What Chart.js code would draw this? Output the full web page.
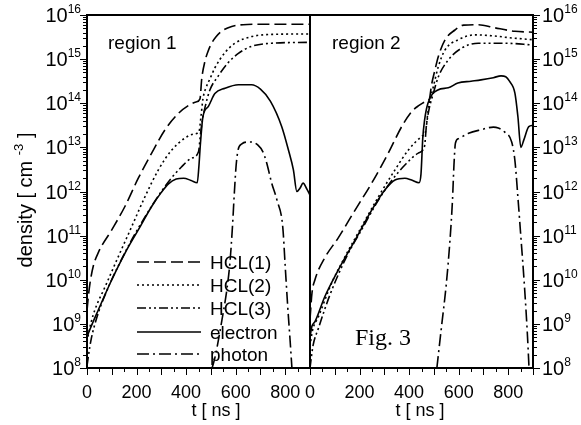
<!DOCTYPE html>
<html><head><meta charset="utf-8">
<script src="https://cdn.jsdelivr.net/npm/chart.js@4/dist/chart.umd.min.js"></script>
<style>
html,body{margin:0;padding:0;background:#fff;}
#wrap{position:relative;width:581px;height:425px;overflow:hidden;background:#fff;}
canvas{position:absolute;top:0;}
#cL{left:0;width:311px;height:425px;}
#cR{left:290px;width:291px;height:425px;}
</style></head>
<body><div id="wrap"><canvas id="cL" width="311" height="425"></canvas><canvas id="cR" width="291" height="425"></canvas></div>
<script>
// ---------- data (densities in cm^-3, time in ns) ----------
const SERIES_NAMES = ['HCL(1)', 'HCL(2)', 'HCL(3)', 'electron', 'photon'];
const X_TICK_LABELS = [0, 200, 400, 600, 800];
const Y_DECADES = [8, 9, 10, 11, 12, 13, 14, 15, 16];
const PANEL_TITLES = ['region 1', 'region 2'];

// region 1
const R1_HCL1_T = [0, 5, 12, 25, 46, 100, 153, 207, 261, 315, 369, 410, 440, 456, 463, 476, 490, 503, 520, 543, 584, 630, 700, 800, 900];
const R1_HCL1_N = [2.0e9, 3.98e9, 8.32e9, 2.0e10, 4.17e10, 1.35e11, 4.57e11, 2.0e12, 7.41e12, 2.51e13, 5.89e13, 8.91e13, 1.07e14, 1.26e14, 3.55e14, 8.91e14, 1.58e15, 2.29e15, 3.16e15, 4.27e15, 5.5e15, 6.03e15, 6.17e15, 6.17e15, 6.17e15];
const R1_HCL2_T = [0, 15, 32, 73, 126, 180, 234, 288, 342, 395, 430, 452, 460, 468, 480, 496, 516, 557, 597, 664, 745, 900];
const R1_HCL2_N = [3.98e8, 1.0e9, 2.09e9, 6.92e9, 3.31e10, 1.58e11, 7.59e11, 3.09e12, 8.71e12, 1.62e13, 2.0e13, 2.29e13, 5.01e13, 1.26e14, 2.24e14, 3.55e14, 6.31e14, 1.41e15, 2.29e15, 3.24e15, 3.63e15, 3.72e15];
const R1_HCL3_T = [0, 15, 40, 80, 150, 200, 260, 300, 340, 380, 420, 450, 458, 465, 476, 496, 530, 570, 611, 664, 745, 900];
const R1_HCL3_N = [1.12e8, 3.98e8, 1.41e9, 5.62e9, 3.8e10, 1.26e11, 4.57e11, 1.0e12, 2.0e12, 3.55e12, 5.62e12, 7.94e12, 2.0e13, 3.98e13, 7.94e13, 2.0e14, 4.17e14, 8.32e14, 1.35e15, 1.95e15, 2.29e15, 2.4e15];
const R1_ELEC_T = [0, 10, 46, 100, 153, 207, 261, 300, 330, 360, 390, 420, 445, 452, 458, 468, 490, 516, 557, 611, 664, 700, 740, 786, 813, 833, 847, 860, 872, 888, 900];
const R1_ELEC_N = [5.01e8, 7.08e8, 2.09e9, 1.0e10, 3.98e10, 1.35e11, 4.57e11, 9.55e11, 1.51e12, 1.91e12, 2.0e12, 1.78e12, 1.58e12, 3.98e12, 1.26e13, 5.01e13, 8.51e13, 1.66e14, 2.19e14, 2.63e14, 2.63e14, 2.09e14, 1.12e14, 2.95e13, 8.71e12, 3.09e12, 1.0e12, 1.2e12, 1.55e12, 1.12e12, 8.32e11];
const R1_PHOT_T = [505, 517, 545, 565, 577, 587, 595, 602, 610, 625, 645, 665, 690, 710, 725, 745, 767, 790, 800, 810, 820, 827];
const R1_PHOT_N = [1.0e8, 1.78e8, 1.26e9, 6.31e9, 2.51e10, 1.58e11, 1.0e12, 3.98e12, 8.91e12, 1.2e13, 1.32e13, 1.32e13, 1.12e13, 7.94e12, 4.47e12, 1.58e12, 6.31e11, 1.58e11, 2.0e10, 2.51e9, 3.98e8, 1.0e8];

// region 2
const R2_HCL1_T = [0, 8, 20, 60, 114, 182, 249, 316, 370, 410, 440, 470, 482, 490, 504, 518, 545, 585, 620, 680, 745, 827, 900];
const R2_HCL1_N = [1.26e9, 5.01e9, 1.0e10, 3.16e10, 8.91e10, 3.8e11, 1.55e12, 7.41e12, 2.95e13, 6.46e13, 8.91e13, 1.12e14, 1.26e14, 2.51e14, 5.62e14, 1.15e15, 2.75e15, 4.57e15, 5.89e15, 6.03e15, 5.13e15, 4.27e15, 4.07e15];
const R2_HCL2_T = [0, 10, 34, 87, 141, 208, 276, 343, 397, 451, 466, 476, 486, 498, 518, 545, 598, 666, 733, 814, 900];
const R2_HCL2_N = [3.16e8, 7.08e8, 1.45e9, 8.32e9, 3.31e10, 1.58e11, 7.59e11, 3.09e12, 8.71e12, 1.78e13, 2.24e13, 6.31e13, 1.26e14, 2.4e14, 6.76e14, 1.62e15, 2.75e15, 3.55e15, 3.39e15, 3.02e15, 2.75e15];
const R2_HCL3_T = [0, 12, 34, 80, 150, 210, 270, 330, 383, 437, 462, 470, 480, 498, 518, 558, 612, 679, 787, 900];
const R2_HCL3_N = [1.0e8, 3.16e8, 7.94e8, 4.47e9, 3.55e10, 1.41e11, 5.62e11, 1.78e12, 3.98e12, 7.41e12, 1.05e13, 3.16e13, 7.08e13, 1.7e14, 3.98e14, 9.55e14, 1.78e15, 2.29e15, 2.29e15, 2.09e15];
const R2_ELEC_T = [0, 8, 20, 60, 114, 182, 249, 303, 343, 383, 410, 440, 448, 455, 462, 476, 516, 558, 597, 650, 690, 740, 771, 790, 805, 827, 839, 851, 863, 883, 900];
const R2_ELEC_N = [5.01e8, 8.91e8, 1.12e9, 4.17e9, 1.66e10, 7.94e10, 3.8e11, 1.1e12, 1.82e12, 2.0e12, 1.82e12, 1.58e12, 2.51e12, 1.58e13, 3.98e13, 1.0e14, 2.0e14, 2.24e14, 2.88e14, 3.16e14, 3.39e14, 3.8e14, 4.17e14, 3.98e14, 3.16e14, 1.7e14, 5.01e13, 1.0e13, 1.48e13, 2.95e13, 3.16e13];
const R2_PHOT_T = [512, 530, 550, 565, 575, 581, 587, 600, 640, 690, 740, 760, 785, 814, 827, 840, 852, 865, 877, 884];
const R2_PHOT_N = [1.0e8, 7.94e8, 7.94e9, 7.94e10, 6.31e11, 3.98e12, 1.26e13, 1.58e13, 2.09e13, 2.51e13, 2.88e13, 2.75e13, 2.24e13, 1.32e13, 5.01e12, 6.31e11, 7.94e10, 7.94e9, 6.31e8, 1.0e8];

// ---------- styles ----------
const FONT = '"Liberation Sans", Arial, Helvetica, sans-serif';
const SERIF = '"Liberation Serif", "Times New Roman", serif';
const DASHES = [[12, 5], [2, 3], [9, 3, 2, 3, 2, 3], [], [12, 4, 2, 4]];

function pts(ts, ns) { return ts.map((t, i) => ({ x: t, y: ns[i] })); }
function makeDatasets(list) {
  return list.map((p, i) => ({
    label: SERIES_NAMES[i], data: pts(p[0], p[1]),
    borderColor: '#000', borderWidth: 1.6, borderDash: DASHES[i],
    pointRadius: 0, fill: false, cubicInterpolationMode: 'monotone'
  }));
}

function sup(ctx, base, exp, x, y, align, baseFont, expFont, raise) {
  ctx.font = baseFont; const wb = ctx.measureText(base).width;
  ctx.font = expFont; const we = ctx.measureText(exp).width;
  let x0 = align === 'right' ? x - wb - we : x;
  ctx.textAlign = 'left';
  ctx.font = baseFont; ctx.fillText(base, x0, y);
  ctx.font = expFont; ctx.fillText(exp, x0 + wb, y - raise);
}

function decorPlugin(side) {
  return {
    id: 'decor' + side,
    afterDraw(chart) {
      const ctx = chart.ctx, a = chart.chartArea, xs = chart.scales.x, ys = chart.scales.y;
      ctx.save();
      ctx.strokeStyle = '#000'; ctx.fillStyle = '#000';
      // frame
      ctx.lineWidth = 2; ctx.setLineDash([]);
      ctx.strokeRect(a.left, a.top, a.right - a.left, a.bottom - a.top);
      // y ticks
      ctx.lineWidth = 1;
      for (let e = 8; e <= 16; e++) {
        for (let k = 1; k <= 9; k++) {
          const v = k * Math.pow(10, e);
          if (v > 1e16 * 1.0001) break;
          const py = Math.round(ys.getPixelForValue(v)) + 0.5;
          const len = k === 1 ? 7 : 4;
          ctx.beginPath();
          if (side === 'L') { ctx.moveTo(a.left - len, py); ctx.lineTo(a.left, py); }
          else { ctx.moveTo(a.right, py); ctx.lineTo(a.right + len, py); }
          ctx.stroke();
        }
      }
      // x ticks
      for (let t = 0; t <= 900; t += 50) {
        const px = Math.round(xs.getPixelForValue(t)) + 0.5;
        const len = t % 100 === 0 ? 7 : 4;
        ctx.beginPath(); ctx.moveTo(px, a.bottom); ctx.lineTo(px, a.bottom + len); ctx.stroke();
      }
      // y tick labels
      ctx.textBaseline = 'alphabetic';
      Y_DECADES.forEach(e => {
        const py = ys.getPixelForValue(Math.pow(10, e));
        if (side === 'L') sup(ctx, '10', String(e), a.left - 6, py + 7, 'right', '20px ' + FONT, '12px ' + FONT, 9);
        else sup(ctx, '10', String(e), a.right + 9, py + 7, 'left', '20px ' + FONT, '12px ' + FONT, 9);
      });
      // x title
      ctx.font = '18px ' + FONT; ctx.textAlign = 'center';
      const cx = side === 'L' ? 216 : a.left + 110;
      ctx.fillText('t [ ns ]', cx, 416);
      // panel title
      ctx.font = '19px ' + FONT; ctx.textAlign = 'left';
      ctx.fillText(side === 'L' ? PANEL_TITLES[0] : PANEL_TITLES[1], a.left + (side === 'L' ? 21 : 22), 49);
      if (side === 'L') {
        // legend
        const rows = [262, 285, 308, 332, 354];
        chart.data.datasets.forEach((ds, i) => {
          ctx.lineWidth = 1.6; ctx.setLineDash(ds.borderDash);
          ctx.beginPath(); ctx.moveTo(137, rows[i]); ctx.lineTo(201, rows[i]); ctx.stroke();
          ctx.setLineDash([]);
          ctx.font = '19px ' + FONT; ctx.textAlign = 'left';
          ctx.fillText(ds.label, 210, rows[i] + 7);
        });
        // y title
        ctx.save();
        ctx.translate(32, 200); ctx.rotate(-Math.PI / 2);
        const f1 = '20px ' + FONT, f2 = '13px ' + FONT;
        ctx.font = f1; const w1 = ctx.measureText('density [ cm ').width;
        ctx.font = f2; const w2 = ctx.measureText('-3').width;
        ctx.font = f1; const w3 = ctx.measureText(' ]').width;
        let x0 = -(w1 + w2 + w3) / 2;
        ctx.textAlign = 'left';
        ctx.font = f1; ctx.fillText('density [ cm ', x0, 0);
        ctx.font = f2; ctx.fillText('-3', x0 + w1, -9);
        ctx.font = f1; ctx.fillText(' ]', x0 + w1 + w2, 0);
        ctx.restore();
      } else {
        ctx.font = '24px ' + SERIF; ctx.textAlign = 'left';
        ctx.fillText('Fig. 3', a.left + 45, 345);
      }
      ctx.restore();
    }
  };
}

function makeChart(id, side, list) {
  return new Chart(document.getElementById(id), {
    type: 'line',
    data: { datasets: makeDatasets(list) },
    options: {
      responsive: false, animation: false, events: [], devicePixelRatio: 1,
      layout: { padding: side === 'L' ? { top: 15, left: 0, right: 1, bottom: 0 } : { top: 15, left: 20, right: 0, bottom: 0 } },
      plugins: { legend: { display: false }, tooltip: { enabled: false } },
      scales: {
        x: {
          type: 'linear', min: 0, max: 900,
          grid: { display: false, drawTicks: false }, border: { display: false },
          ticks: {
            stepSize: 50, autoSkip: false, maxRotation: 0, maxTicksLimit: 100, padding: 14,
            color: '#000', font: { family: FONT, size: 18 },
            callback: v => X_TICK_LABELS.includes(v) ? String(v) : ''
          },
          afterFit: s => { s.height = 57; s.paddingLeft = 0; s.paddingRight = 0; }
        },
        y: {
          type: 'logarithmic', position: side === 'L' ? 'left' : 'right', min: 1e8, max: 1e16,
          grid: { display: false, drawTicks: false }, border: { display: false },
          ticks: { display: false },
          afterFit: s => { s.width = side === 'L' ? 87 : 48; s.paddingTop = 0; s.paddingBottom = 0; }
        }
      }
    },
    plugins: [decorPlugin(side)]
  });
}

makeChart('cL', 'L', [[R1_HCL1_T, R1_HCL1_N], [R1_HCL2_T, R1_HCL2_N], [R1_HCL3_T, R1_HCL3_N], [R1_ELEC_T, R1_ELEC_N], [R1_PHOT_T, R1_PHOT_N]]);
makeChart('cR', 'R', [[R2_HCL1_T, R2_HCL1_N], [R2_HCL2_T, R2_HCL2_N], [R2_HCL3_T, R2_HCL3_N], [R2_ELEC_T, R2_ELEC_N], [R2_PHOT_T, R2_PHOT_N]]);
</script>
</body></html>
